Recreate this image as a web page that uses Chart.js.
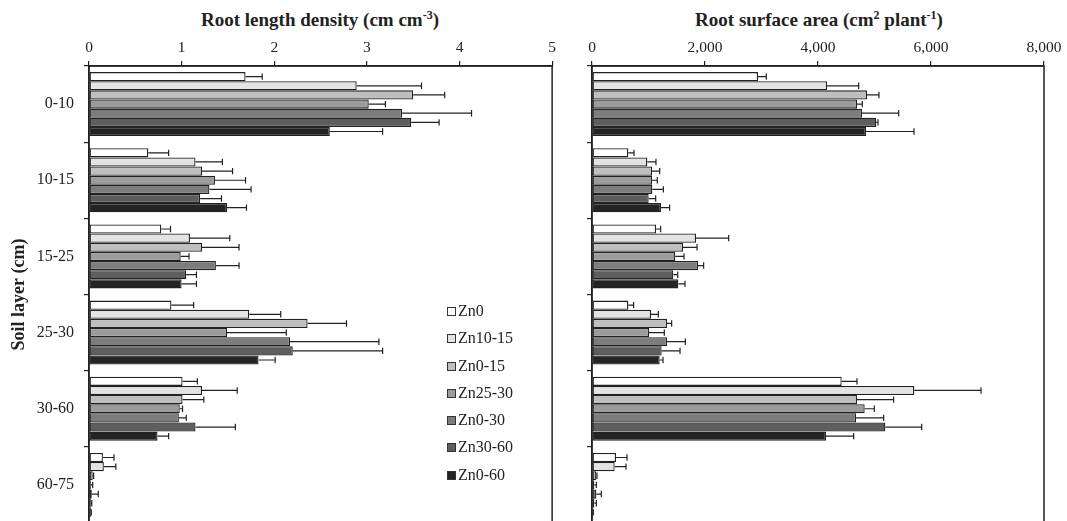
<!DOCTYPE html>
<html>
<head>
<meta charset="utf-8">
<script src="https://cdn.jsdelivr.net/npm/chart.js@4/dist/chart.umd.min.js"></script>
<style>
  body { margin: 0; background: #fff; width: 1067px; height: 521px; overflow: hidden; position: relative; font-family: "Liberation Serif", serif; color: #222; }
  .panel { position: absolute; top: 0; }
  .title { position: absolute; top: 9px; line-height: 22px; font-weight: bold; font-size: 19px; white-space: nowrap; transform: translateX(-50%); }
  .title sup { font-size: 12px; line-height: 0; }
  #legend { position: absolute; left: 447px; top: 297px; font-size: 16px; }
  .legend-item { height: 27.3px; line-height: 27px; white-space: nowrap; }
  .legend-box { display: inline-block; width: 7px; height: 7px; border: 1px solid #333; margin-right: 2px; vertical-align: 0px; }
</style>
</head>
<body>
<div class="title" style="left:320px">Root length density (cm cm<sup>-3</sup>)</div>
<div class="title" style="left:819px">Root surface area (cm<sup>2</sup> plant<sup>-1</sup>)</div>
<canvas id="rldChart" class="panel" style="left:0" width="560" height="530"></canvas>
<canvas id="rsaChart" class="panel" style="left:560px" width="507" height="530"></canvas>
<div id="legend"></div>
<script>
const layers = ['0-10', '10-15', '15-25', '25-30', '30-60', '60-75'];
const treatments = ['Zn0', 'Zn10-15', 'Zn0-15', 'Zn25-30', 'Zn0-30', 'Zn30-60', 'Zn0-60'];
const fills = ['#ffffff', '#e3e3e3', '#bfbfbf', '#9c9c9c', '#7c7c7c', '#5e5e5e', '#242424'];

// Root length density (cm cm-3), one array per treatment, layers top to bottom
const rldZn0 = [1.69, 0.64, 0.78, 0.89, 1.01, 0.15];
const rldZn10_15 = [2.89, 1.15, 1.09, 1.73, 1.22, 0.16];
const rldZn0_15 = [3.50, 1.22, 1.22, 2.36, 1.01, 0.04];
const rldZn25_30 = [3.02, 1.36, 0.99, 1.49, 0.98, 0.02];
const rldZn0_30 = [3.38, 1.30, 1.37, 2.17, 0.97, 0.03];
const rldZn30_60 = [3.48, 1.20, 1.05, 2.20, 1.15, 0.02];
const rldZn0_60 = [2.60, 1.49, 1.00, 1.83, 0.74, 0.02];

const rldErrZn0 = [0.18, 0.22, 0.10, 0.24, 0.16, 0.12];
const rldErrZn10_15 = [0.70, 0.29, 0.43, 0.34, 0.38, 0.13];
const rldErrZn0_15 = [0.34, 0.33, 0.40, 0.42, 0.23, 0.01];
const rldErrZn25_30 = [0.18, 0.33, 0.09, 0.64, 0.03, 0.02];
const rldErrZn0_30 = [0.75, 0.45, 0.25, 0.96, 0.08, 0.07];
const rldErrZn30_60 = [0.30, 0.23, 0.11, 0.97, 0.43, 0.01];
const rldErrZn0_60 = [0.57, 0.21, 0.16, 0.18, 0.12, 0.005];

// Root surface area (cm2 plant-1)
const rsaZn0 = [2938, 643, 1133, 643, 4419, 425];
const rsaZn10_15 = [4159, 979, 1841, 1044, 5705, 401];
const rsaZn0_15 = [4867, 1062, 1611, 1327, 4690, 77];
const rsaZn25_30 = [4690, 1062, 1475, 1009, 4826, 41];
const rsaZn0_30 = [4779, 1068, 1876, 1327, 4673, 77];
const rsaZn30_60 = [5032, 1003, 1440, 1233, 5192, 41];
const rsaZn0_60 = [4850, 1221, 1528, 1198, 4142, 12];

const rsaErrZn0 = [147, 100, 82, 94, 271, 194];
const rsaErrZn10_15 = [561, 153, 578, 130, 1180, 201];
const rsaErrZn0_15 = [212, 136, 248, 83, 649, 11];
const rsaErrZn25_30 = [95, 94, 153, 271, 171, 36];
const rsaErrZn0_30 = [649, 195, 100, 325, 489, 88];
const rsaErrZn30_60 = [30, 124, 77, 325, 643, 36];
const rsaErrZn0_60 = [849, 153, 118, 59, 489, 12];

const rldTicks = [0, 1, 2, 3, 4, 5];
const rsaTicks = [0, 2000, 4000, 6000, 8000];

const rldSeries = [rldZn0, rldZn10_15, rldZn0_15, rldZn25_30, rldZn0_30, rldZn30_60, rldZn0_60];
const rldErrors = [rldErrZn0, rldErrZn10_15, rldErrZn0_15, rldErrZn25_30, rldErrZn0_30, rldErrZn30_60, rldErrZn0_60];
const rsaSeries = [rsaZn0, rsaZn10_15, rsaZn0_15, rsaZn25_30, rsaZn0_30, rsaZn30_60, rsaZn0_60];
const rsaErrors = [rsaErrZn0, rsaErrZn10_15, rsaErrZn0_15, rsaErrZn25_30, rsaErrZn0_30, rsaErrZn30_60, rsaErrZn0_60];

const ink = '#222';
const tickFont = { family: 'Liberation Serif', size: 15.5 };
const labelFont = { family: 'Liberation Serif', size: 16 };

// whiskers to the right of each bar
const errorBars = {
    id: 'errorBars',
    afterDatasetsDraw(chart) {
        const ctx = chart.ctx;
        const xs = chart.scales.x;
        ctx.save();
        ctx.strokeStyle = ink;
        ctx.lineWidth = 1.2;
        chart.data.datasets.forEach((ds, i) => {
            chart.getDatasetMeta(i).data.forEach((bar, j) => {
                const x1 = xs.getPixelForValue(ds.data[j]);
                const x2 = xs.getPixelForValue(ds.data[j] + ds.errors[j]);
                const cap = bar.height * 0.35;
                ctx.beginPath();
                ctx.moveTo(x1, bar.y);
                ctx.lineTo(x2, bar.y);
                ctx.moveTo(x2, bar.y - cap);
                ctx.lineTo(x2, bar.y + cap);
                ctx.stroke();
            });
        });
        ctx.restore();
    }
};

// box round the plot area
const frame = {
    id: 'frame',
    afterDraw(chart) {
        const a = chart.chartArea;
        const ctx = chart.ctx;
        ctx.save();
        ctx.strokeStyle = ink;
        ctx.lineWidth = 1.5;
        ctx.strokeRect(a.left, a.top, a.right - a.left, a.bottom - a.top);
        ctx.restore();
    }
};

function buildDatasets(series, errors) {
    return treatments.map((name, i) => ({
        label: name,
        data: series[i],
        errors: errors[i],
        backgroundColor: fills[i],
        borderColor: ink,
        borderWidth: 1.3,
        borderSkipped: false,
        categoryPercentage: 0.84,
        barPercentage: 1
    }));
}

function makeChart(canvasId, series, errors, ticks, opts) {
    const ctx = document.getElementById(canvasId).getContext('2d');
    return new Chart(ctx, {
        type: 'bar',
        data: { labels: layers, datasets: buildDatasets(series, errors) },
        options: {
            indexAxis: 'y',
            responsive: false,
            animation: false,
            layout: { padding: { top: 0, left: 0, right: opts.right, bottom: 7 } },
            plugins: { legend: { display: false }, tooltip: { enabled: false } },
            scales: {
                x: {
                    position: 'top',
                    min: ticks[0],
                    max: ticks[ticks.length - 1],
                    afterBuildTicks: s => { s.ticks = ticks.map(v => ({ value: v })); },
                    ticks: {
                        font: tickFont,
                        color: ink,
                        padding: 4,
                        maxRotation: 0,
                        callback: v => v.toLocaleString('en-US')
                    },
                    grid: { drawOnChartArea: false, tickLength: 5, color: ink, lineWidth: 1.2 },
                    border: { color: ink, width: 1.5 },
                    afterFit: s => { s.height = 66; }
                },
                y: {
                    ticks: { display: opts.showLabels, font: labelFont, color: ink, padding: 10 },
                    grid: { offset: true, drawOnChartArea: false, tickLength: 5, color: ink, lineWidth: 1.2 },
                    border: { color: ink, width: 1.5 },
                    title: {
                        display: opts.showLabels,
                        text: 'Soil layer (cm)',
                        color: ink,
                        font: { family: 'Liberation Serif', size: 18, weight: 'bold' },
                        padding: { top: 9, bottom: 0 }
                    },
                    afterFit: s => {
                        s.width = opts.left;
                        s.paddingTop = 0;
                        s.paddingBottom = 0;
                    }
                }
            }
        },
        plugins: [errorBars, frame]
    });
}

function buildLegend() {
    const legend = document.getElementById('legend');
    legend.innerHTML = treatments.map((name, i) => `
        <div class="legend-item"><span class="legend-box" style="background:${fills[i]}"></span>${name}</div>
    `).join('');
}

document.addEventListener('DOMContentLoaded', function() {
    makeChart('rldChart', rldSeries, rldErrors, rldTicks, { left: 89, right: 5, showLabels: true });
    makeChart('rsaChart', rsaSeries, rsaErrors, rsaTicks, { left: 32, right: 23, showLabels: false });
    buildLegend();
});
</script>
</body>
</html>
